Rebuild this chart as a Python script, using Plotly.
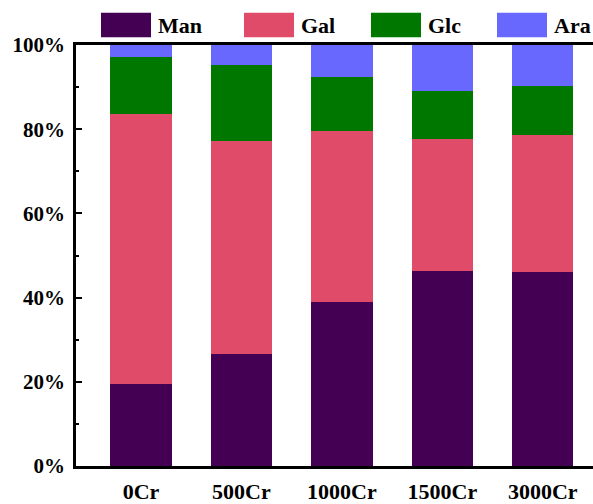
import plotly.graph_objects as go

categories = ["0Cr", "500Cr", "1000Cr", "1500Cr", "3000Cr"]
man = [19.4, 26.7, 39.0, 46.4, 46.0]
gal = [64.3, 50.6, 40.5, 31.3, 32.7]
glc = [13.4, 18.0, 12.8, 11.4, 11.5]
ara = [2.9, 4.7, 7.7, 10.9, 9.8]

series_names = ["Man", "Gal", "Glc", "Ara"]
series_values = [man, gal, glc, ara]
colors = ["#440154", "#E04B6A", "#007800", "#6868FF"]

y_ticks = [0, 20, 40, 60, 80, 100]
y_tick_labels = ["0%", "20%", "40%", "60%", "80%", "100%"]

font_family = "Liberation Serif"

fig = go.Figure()
for name, vals, col in zip(series_names, series_values, colors):
    fig.add_trace(go.Bar(
        x=categories, y=vals, name=name,
        marker=dict(color=col, line=dict(width=0)),
        showlegend=False,
    ))

# Custom legend (large colour boxes with bold labels) above the plot
W, H = 593, 504
ml, mr, mt, mb = 76, 0, 45, 29
pw, ph = W - ml - mr, H - mt - mb

def px_x(p):
    return (p - ml) / pw

def px_y(p):
    return (H - mb - p) / ph

box_left = [101, 244, 371, 497]
box_w, box_top, box_bot = 50, 12, 37
for bl, name, col in zip(box_left, series_names, colors):
    fig.add_shape(type="rect", xref="paper", yref="paper",
                  x0=px_x(bl), x1=px_x(bl + box_w),
                  y0=px_y(box_bot), y1=px_y(box_top),
                  fillcolor=col, line=dict(width=0), layer="above")
    fig.add_annotation(xref="paper", yref="paper",
                       x=px_x(bl + box_w + 5), y=px_y(25),
                       xanchor="left", yanchor="middle",
                       text=name, showarrow=False,
                       font=dict(family=font_family, size=22, color="black", weight="bold"))

fig.update_layout(
    width=W, height=H, autosize=False,
    margin=dict(l=ml, r=mr, t=mt, b=mb, pad=0),
    barmode="stack", bargap=0.39,
    plot_bgcolor="white", paper_bgcolor="white",
    font=dict(family=font_family, color="black"),
)
fig.update_xaxes(
    range=[-0.647, 4.5],
    showline=True, linecolor="black", linewidth=2.5, mirror=True,
    ticks="", showgrid=False, zeroline=False,
    tickfont=dict(family=font_family, size=22, color="black", weight="bold"),
    ticklabelstandoff=4,
)
fig.update_yaxes(
    range=[0, 100], tickmode="array", tickvals=y_ticks, ticktext=y_tick_labels,
    showline=True, linecolor="black", linewidth=2.5,
    ticks="inside", ticklen=6, tickwidth=2, tickcolor="black",
    minor=dict(ticks="inside", ticklen=3, tickwidth=2, tickvals=[10, 30, 50, 70, 90], tickcolor="black"),
    showgrid=False, zeroline=False,
    tickfont=dict(family=font_family, size=21, color="black", weight="bold"),
    ticklabelstandoff=4,
)

fig.write_html("out.html")
